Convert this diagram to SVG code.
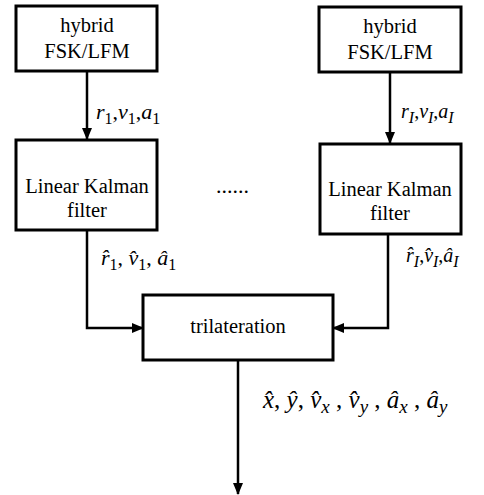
<svg xmlns="http://www.w3.org/2000/svg" width="484" height="495" viewBox="0 0 484 495">
<style>
.bx{fill:#fff;stroke:#000;stroke-width:3}
.cn{fill:none;stroke:#000;stroke-width:2.5}
</style>
<defs>
<marker id="ah2" markerWidth="12" markerHeight="12" refX="11" refY="6" orient="auto" markerUnits="userSpaceOnUse" viewBox="0 0 12 12">
<path d="M0,1 L12,6 L0,11 Z" fill="#000"/>
</marker>
</defs>
<g id="connectors">
<line class="cn" x1="87" y1="71" x2="87" y2="139" marker-end="url(#ah2)"/>
<line class="cn" x1="390" y1="72" x2="390" y2="143" marker-end="url(#ah2)"/>
<polyline class="cn" points="87,230 87,328 143,328" marker-end="url(#ah2)"/>
<polyline class="cn" points="388,234 388,328 333,328" marker-end="url(#ah2)"/>
<line class="cn" x1="238" y1="360" x2="238" y2="494" marker-end="url(#ah2)"/>
</g>
<g id="fsk1"><rect class="bx" x="16" y="6" width="141" height="65"/>
<text style="font-family:'Liberation Serif',serif;font-size:20.5px" text-anchor="middle" x="87" y="32">hybrid</text><text style="font-family:'Liberation Serif',serif;font-size:20.5px" text-anchor="middle" x="87" y="58">FSK/LFM</text></g>
<g id="fskI"><rect class="bx" x="319" y="7" width="142" height="65"/>
<text style="font-family:'Liberation Serif',serif;font-size:20.5px" text-anchor="middle" x="390" y="33">hybrid</text><text style="font-family:'Liberation Serif',serif;font-size:20.5px" text-anchor="middle" x="390" y="59">FSK/LFM</text></g>
<g id="kf1"><rect class="bx" x="16" y="140" width="141" height="90"/>
<text style="font-family:'Liberation Serif',serif;font-size:20.5px" text-anchor="middle" x="87" y="193">Linear Kalman</text><text style="font-family:'Liberation Serif',serif;font-size:20.5px" text-anchor="middle" x="87" y="217">filter</text></g>
<g id="kfI"><rect class="bx" x="320" y="144" width="141" height="90"/>
<text style="font-family:'Liberation Serif',serif;font-size:20.5px" text-anchor="middle" x="390" y="196">Linear Kalman</text><text style="font-family:'Liberation Serif',serif;font-size:20.5px" text-anchor="middle" x="390" y="220">filter</text></g>
<g id="tri"><rect class="bx" x="143" y="295" width="190" height="65"/>
<text style="font-family:'Liberation Serif',serif;font-size:20.5px" text-anchor="middle" x="238" y="333">trilateration</text></g>
<text style="font-family:'Liberation Serif',serif;font-size:22px" x="216" y="193">......</text>
<text style="font-family:'Liberation Serif',serif;font-size:22px" x="96" y="119"><tspan font-style="italic">r</tspan><tspan font-size="16" dy="5">1</tspan><tspan dy="-5">,</tspan><tspan font-style="italic">v</tspan><tspan font-size="16" dy="5">1</tspan><tspan dy="-5">,</tspan><tspan font-style="italic">a</tspan><tspan font-size="16" dy="5">1</tspan></text>
<text style="font-family:'Liberation Serif',serif;font-size:20px" x="401" y="118"><tspan font-style="italic">r</tspan><tspan font-size="16" font-style="italic" dy="5">I</tspan><tspan dy="-5">,</tspan><tspan font-style="italic">v</tspan><tspan font-size="16" font-style="italic" dy="5">I</tspan><tspan dy="-5">,</tspan><tspan font-style="italic">a</tspan><tspan font-size="16" font-style="italic" dy="5">I</tspan></text>
<text style="font-family:'Liberation Serif',serif;font-size:22px" x="101" y="265"><tspan font-style="italic">r̂</tspan><tspan font-size="16" dy="5">1</tspan><tspan dy="-5">, </tspan><tspan font-style="italic">v̂</tspan><tspan font-size="16" dy="5">1</tspan><tspan dy="-5">, </tspan><tspan font-style="italic">â</tspan><tspan font-size="16" dy="5">1</tspan></text>
<text style="font-family:'Liberation Serif',serif;font-size:20px" x="406" y="262"><tspan font-style="italic">r̂</tspan><tspan font-size="16" font-style="italic" dy="5">I</tspan><tspan dy="-5">,</tspan><tspan font-style="italic">v̂</tspan><tspan font-size="16" font-style="italic" dy="5">I</tspan><tspan dy="-5">,</tspan><tspan font-style="italic">â</tspan><tspan font-size="16" font-style="italic" dy="5">I</tspan></text>
<text style="font-family:'Liberation Serif',serif;font-size:25px" x="263" y="408"><tspan font-style="italic">x̂</tspan><tspan>, </tspan><tspan font-style="italic">ŷ</tspan><tspan>, </tspan><tspan font-style="italic">v̂</tspan><tspan font-style="italic" font-size="19" dy="5">x</tspan><tspan dy="-5"> , </tspan><tspan font-style="italic">v̂</tspan><tspan font-style="italic" font-size="19" dy="5">y</tspan><tspan dy="-5"> , </tspan><tspan font-style="italic">â</tspan><tspan font-style="italic" font-size="19" dy="5">x</tspan><tspan dy="-5"> , </tspan><tspan font-style="italic">â</tspan><tspan font-style="italic" font-size="19" dy="5">y</tspan></text>
</svg>
